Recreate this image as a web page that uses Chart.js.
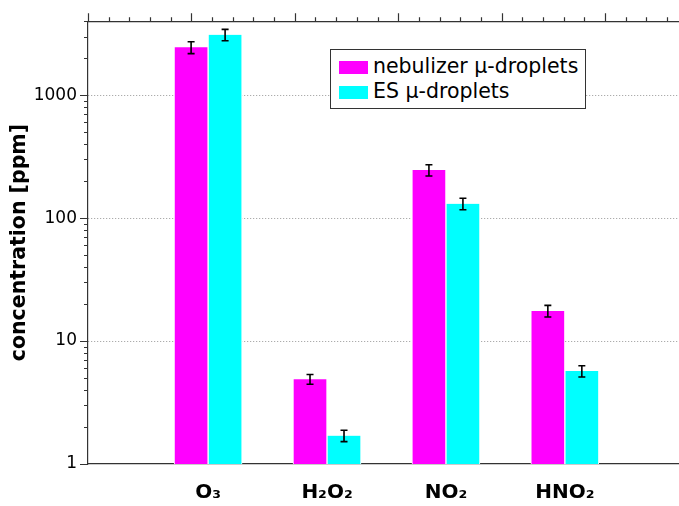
<!DOCTYPE html>
<html>
<head>
<meta charset="utf-8">
<script src="https://cdn.jsdelivr.net/npm/chart.js@4.4.1/dist/chart.umd.min.js"></script>
<style>
  html, body { margin: 0; background: #fff; overflow: hidden; }
  #wrap { position: relative; width: 679px; height: 506px; }
  #myChart { display: block; }
  #legend {
    position: absolute; left: 330px; top: 49px; width: 254px; height: 58px;
    border: 1.5px solid #333; background: #fff;
    font-family: "DejaVu Sans", sans-serif; font-size: 20.5px; color: #000;
  }
  .item { position: absolute; left: 8px; height: 24px; line-height: 24px; white-space: nowrap; }
  .item span { display: inline-block; width: 29px; height: 13px; margin-right: 5px; vertical-align: -1px; }
</style>
</head>
<body>
<div id="wrap">
  <canvas id="myChart" width="679" height="506"></canvas>
  <div id="legend"></div>
</div>
<script>
// data
const categories = ['O₃', 'H₂O₂', 'NO₂', 'HNO₂'];
const seriesNames = ['nebulizer μ-droplets', 'ES μ-droplets'];
const nebulizer = [2450, 4.9, 246, 17.6];
const nebulizerErr = [270, 0.45, 26, 1.9];
const esDroplets = [3100, 1.7, 131, 5.7];
const esErr = [330, 0.18, 14, 0.6];
const colors = ['#ff00ff', '#00ffff'];
const yMajor = [1, 10, 100, 1000];

const toPoints = arr => arr.map((v, i) => ({ x: i + 1, y: v }));

const errors = [nebulizerErr, esErr];

// error bars drawn from the y scale
const errorBars = {
    id: 'errorBars',
    afterDatasetsDraw(chart) {
        const ctx = chart.ctx;
        const y = chart.scales.y;
        ctx.save();
        ctx.strokeStyle = '#000';
        ctx.lineWidth = 1.6;
        chart.data.datasets.forEach((ds, d) => {
            const meta = chart.getDatasetMeta(d);
            meta.data.forEach((bar, i) => {
                const v = ds.data[i].y;
                const e = errors[d][i];
                const top = y.getPixelForValue(v + e);
                const bot = y.getPixelForValue(v - e);
                const x = bar.x;
                ctx.beginPath();
                ctx.moveTo(x, top); ctx.lineTo(x, bot);
                ctx.moveTo(x - 3.5, top); ctx.lineTo(x + 3.5, top);
                ctx.moveTo(x - 3.5, bot); ctx.lineTo(x + 3.5, bot);
                ctx.stroke();
            });
        });
        ctx.restore();
    }
};

// outside tick marks on left and top axes
const axisTicks = {
    id: 'axisTicks',
    afterDraw(chart) {
        const ctx = chart.ctx;
        const y = chart.scales.y;
        const x2 = chart.scales.x2;
        const area = chart.chartArea;
        ctx.save();
        ctx.strokeStyle = '#333';
        ctx.lineWidth = 1.2;
        ctx.beginPath();
        yMajor.forEach(dec => {
            for (let m = 1; m <= 9; m++) {
                const v = dec * m;
                if (v > y.max) break;
                const py = Math.round(y.getPixelForValue(v)) + 0.5;
                const len = m === 1 ? 8 : 4;
                ctx.moveTo(area.left, py); ctx.lineTo(area.left - len, py);
            }
        });
        for (let k = 0; k <= Math.floor(x2.max * 5); k++) {
            const v = k / 5;
            const px = Math.round(x2.getPixelForValue(v)) + 0.5;
            const len = k % 5 === 0 ? 8 : 4;
            ctx.moveTo(px, area.top); ctx.lineTo(px, area.top - len);
        }
        ctx.stroke();
        ctx.restore();
    }
};

const config = {
    type: 'bar',
    data: {
        datasets: [
            {
                label: seriesNames[0],
                data: toPoints(nebulizer),
                backgroundColor: colors[0],
                borderColor: '#fff',
                borderWidth: { left: 1, right: 1, top: 0, bottom: 0 },
                barThickness: 34
            },
            {
                label: seriesNames[1],
                data: toPoints(esDroplets),
                backgroundColor: colors[1],
                borderColor: '#fff',
                borderWidth: { left: 1, right: 1, top: 0, bottom: 0 },
                barThickness: 34
            }
        ]
    },
    options: {
        responsive: false,
        animation: false,
        layout: { padding: 0 },
        plugins: {
            legend: { display: false },
            tooltip: { enabled: false }
        },
        scales: {
            x: {
                type: 'linear',
                position: 'bottom',
                offset: false,
                min: -0.01,
                max: 4.96,
                grid: { display: false, drawTicks: false },
                border: { display: true, color: '#333', width: 1.2 },
                ticks: {
                    stepSize: 1,
                    autoSkip: false,
                    maxRotation: 0,
                    padding: 17,
                    color: '#000',
                    font: { family: 'DejaVu Sans', size: 20, weight: 'bold' },
                    callback: v => (Number.isInteger(v) && v >= 1 && v <= categories.length) ? categories[v - 1] : ''
                },
                // tick padding also widens the side padding, so drop it
                afterFit: s => { s.height = 42; s.paddingLeft = 0; s.paddingRight = 0; }
            },
            x2: {
                type: 'linear',
                position: 'top',
                offset: false,
                min: 0,
                max: 5.716,
                grid: { display: false, drawTicks: false },
                border: { display: true, color: '#333', width: 1.2 },
                ticks: { display: false },
                afterFit: s => { s.height = 19; s.paddingLeft = 0; s.paddingRight = 0; }
            },
            y: {
                type: 'logarithmic',
                min: 1,
                max: 4000,
                grid: {
                    drawTicks: false,
                    color: ctx => yMajor.includes(ctx.tick.value) && ctx.tick.value > 1 ? '#999' : 'rgba(0,0,0,0)',
                    lineWidth: 1
                },
                border: { display: true, color: '#333', width: 1.2, dash: [1, 2] },
                ticks: {
                    padding: 11,
                    autoSkip: false,
                    color: '#000',
                    font: { family: 'DejaVu Sans', size: 17 },
                    callback: v => yMajor.includes(v) ? String(v) : ''
                },
                title: {
                    display: true,
                    text: 'concentration [ppm]',
                    color: '#000',
                    padding: { top: 7, bottom: 0 },
                    font: { family: 'DejaVu Sans', size: 20.5, weight: 'bold' }
                },
                afterFit: s => { s.width = 88; }
            }
        }
    },
    plugins: [errorBars, axisTicks]
};

const myChart = new Chart(document.getElementById('myChart'), config);

// legend box inside the plot
const legend = document.getElementById('legend');
seriesNames.forEach((name, i) => {
    const item = document.createElement('div');
    item.className = 'item';
    item.style.top = (4 + i * 25) + 'px';
    item.innerHTML = `<span style="background:${colors[i]}"></span>${name}`;
    legend.appendChild(item);
});
</script>
</body>
</html>
